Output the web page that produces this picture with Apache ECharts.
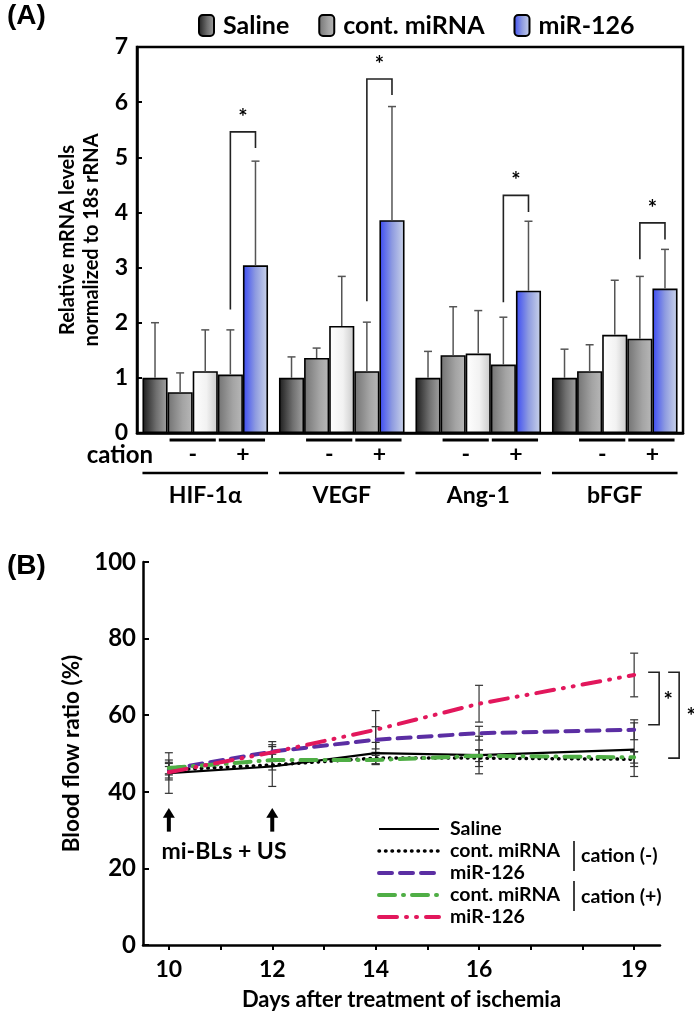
<!DOCTYPE html>
<html><head><meta charset="utf-8">
<script src="https://cdn.jsdelivr.net/npm/echarts@6/dist/echarts.min.js"></script>
<style>html,body{margin:0;padding:0;background:#fff}#c{width:694px;height:1015px}</style>
</head><body><div id="c"></div><script>
// ---------- Panel A data ----------
const genes = ['HIF-1α', 'VEGF', 'Ang-1', 'bFGF'];
const yTicksA = [0, 1, 2, 3, 4, 5, 6, 7];
const salineA = [1.00, 1.00, 1.00, 1.00];
const salineErrA = [1.00, 0.38, 0.48, 0.52];
const contMinusA = [0.74, 1.36, 1.41, 1.12];
const contMinusErrA = [0.35, 0.18, 0.88, 0.48];
const mirMinusA = [1.12, 1.94, 1.44, 1.78];
const mirMinusErrA = [0.75, 0.90, 0.78, 0.99];
const contPlusA = [1.06, 1.12, 1.24, 1.71];
const contPlusErrA = [0.81, 0.89, 0.86, 1.13];
const mirPlusA = [3.04, 3.86, 2.58, 2.62];
const mirPlusErrA = [1.89, 2.06, 1.26, 0.71];
// significance brackets: [left leg bottom, top, right leg bottom]
const sigA = [[2.24, 5.46, 5.17], [2.39, 6.42, 6.13], [2.37, 4.31, 4.01], [3.15, 3.81, 3.51]];

// ---------- Panel B data ----------
const days = [10, 12, 14, 16, 19];
const dayTicks = [10, 11, 12, 13, 14, 15, 16, 17, 18, 19];
const dayLabels = [10, 12, 14, 16, 19];
const salineB = [44.9, 46.6, 50.1, 49.6, 51.0];
const salineSdB = [5.3, 5.2, 2.8, 4.9, 7.0];
const contMinusB = [45.7, 47.0, 48.8, 48.8, 48.5];
const contMinusSdB = [2.6, 1.3, 1.5, 2.2, 1.9];
const mirMinusB = [45.9, 50.5, 53.6, 55.3, 56.2];
const mirMinusSdB = [1.5, 2.6, 3.4, 1.8, 2.6];
const contPlusB = [46.2, 48.3, 48.3, 49.4, 49.0];
const contPlusSdB = [1.5, 1.5, 1.2, 1.5, 1.5];
const mirPlusB = [45.1, 50.3, 56.2, 63.0, 70.5];
const mirPlusSdB = [1.5, 2.0, 5.0, 4.8, 5.7];
const sigB = [[19, 71.2, 57.5], [19, 71.2, 48.8]];
const arrowDays = [10, 12];

const FONT = 'Lato';
const grad = (stops) => ({type: 'linear', x: 0, y: 0, x2: 1, y2: 0,
  colorStops: stops.map(s => ({offset: s[0], color: s[1]}))});
const fillSaline = grad([[0, '#1c1c1c'], [0.55, '#6f6f6f'], [1, '#a2a2a2']]);
const fillCont = grad([[0, '#727272'], [0.6, '#a4a4a4'], [1, '#b8b8b8']]);
const fillWhite = grad([[0, '#ffffff'], [0.55, '#f2f2f2'], [1, '#c9c9c9']]);
const fillBlue = grad([[0, '#3a4af4'], [0.5, '#8e9be0'], [1, '#ccd5ea']]);

const seriesA = [
  {name: 'Saline', vals: salineA, errs: salineErrA, fill: fillSaline},
  {name: 'cont. miRNA', vals: contMinusA, errs: contMinusErrA, fill: fillCont},
  {name: 'miR-126 (cation -)', vals: mirMinusA, errs: mirMinusErrA, fill: fillWhite},
  {name: 'cont. miRNA (cation +)', vals: contPlusA, errs: contPlusErrA, fill: fillCont},
  {name: 'miR-126', vals: mirPlusA, errs: mirPlusErrA, fill: fillBlue}
];

const errDataA = [];
seriesA.forEach((s, k) => s.vals.forEach((v, j) => errDataA.push([j, v, s.errs[j], k])));

function barX(api, j, k) {
  const c = api.coord([j, 0]);
  const bw = api.size([1, 0])[0] * 0.92 / 5;
  return c[0] + (k - 2) * bw;
}

const seriesB = [
  {name: 'Saline ', vals: salineB, sds: salineSdB, ls: {color: '#000', width: 2.2, type: 'solid'}},
  {name: 'cont. miRNA ', vals: contMinusB, sds: contMinusSdB, ls: {color: '#000', width: 3.5, type: [0.5, 6], cap: 'round'}},
  {name: 'miR-126 ', vals: mirMinusB, sds: mirMinusSdB, ls: {color: '#5b2ea3', width: 4, type: [13, 8], cap: 'round'}},
  {name: 'cont. miRNA  ', vals: contPlusB, sds: contPlusSdB, ls: {color: '#4fae45', width: 4, type: [16, 8, 1, 8], cap: 'round'}},
  {name: 'miR-126  ', vals: mirPlusB, sds: mirPlusSdB, ls: {color: '#e2175c', width: 4, type: [18, 9, 1, 9, 1, 9], cap: 'round'}}
];
const errDataB = [];
seriesB.forEach(s => s.vals.forEach((v, i) => errDataB.push([days[i], v, s.sds[i]])));

const boldText = (size) => ({fontFamily: FONT, fontWeight: 'bold', fontSize: size, color: '#000'});

const option = {
  backgroundColor: '#fff',
  animation: false,
  grid: [
    {left: 137, right: 11, top: 47, bottom: 582, show: true, borderColor: '#000', borderWidth: 2.5, containLabel: false},
    {left: 143, right: 34, top: 562, bottom: 70, containLabel: false}
  ],
  xAxis: [
    {gridIndex: 0, type: 'category', data: genes,
      axisLine: {lineStyle: {color: '#000', width: 2.5}},
      axisTick: {inside: true, length: 5, lineStyle: {color: '#000', width: 1.5}},
      axisLabel: Object.assign({margin: 51}, boldText(23))},
    {gridIndex: 1, type: 'value', min: 9.5, max: 19.5,
      name: 'Days after treatment of ischemia', nameLocation: 'middle', nameGap: 44,
      nameTextStyle: boldText(22),
      splitLine: {show: false},
      axisLine: {lineStyle: {color: '#000', width: 2.5}},
      axisTick: {length: 5, lineStyle: {color: '#000', width: 2}, customValues: dayTicks},
      axisLabel: Object.assign({margin: 13, customValues: dayLabels}, boldText(23))}
  ],
  yAxis: [
    {gridIndex: 0, type: 'value', min: 0, max: 7, interval: 1,
      name: 'Relative mRNA levels\nnormalized to 18s rRNA', nameLocation: 'middle', nameRotate: 90, nameGap: 31,
      nameTextStyle: Object.assign({lineHeight: 24}, boldText(20)),
      splitLine: {show: false},
      axisLine: {show: true, lineStyle: {color: '#000', width: 2.5}},
      axisTick: {show: true, inside: true, length: 5, lineStyle: {color: '#000', width: 2}},
      axisLabel: Object.assign({margin: 9, formatter: v => yTicksA.includes(v) ? String(v) : ''}, boldText(23))},
    {gridIndex: 1, type: 'value', min: 0, max: 100, interval: 20,
      name: 'Blood flow ratio (%)', nameLocation: 'middle', nameRotate: 90, nameGap: 55,
      nameTextStyle: boldText(22.5),
      splitLine: {show: false},
      axisLine: {show: true, lineStyle: {color: '#000', width: 2.5}},
      axisTick: {show: true, inside: true, length: 6, lineStyle: {color: '#000', width: 2}},
      axisLabel: Object.assign({margin: 7}, boldText(24))}
  ],
  legend: [
    {data: ['Saline', 'cont. miRNA', 'miR-126'], left: 193, top: 8, itemWidth: 15, itemHeight: 21, itemGap: 29,
      textStyle: Object.assign({padding: [0, 0, 0, 4]}, boldText(25)), selectedMode: false},
    {data: seriesB.map(s => ({name: s.name, lineStyle: s.ls})), orient: 'vertical', left: 372, top: 814, itemWidth: 60, itemHeight: 12, itemGap: 2,
      formatter: n => n.trim(), itemStyle: {opacity: 0},
      textStyle: Object.assign({padding: [0, 0, 0, 6], lineHeight: 18}, boldText(19.5)), selectedMode: false}
  ],
  graphic: [
    {type: 'text', left: 7, top: 2, style: {text: '(A)', font: 'bold 28px "Liberation Sans"', fill: '#000'}},
    {type: 'text', left: 7, top: 552, style: {text: '(B)', font: 'bold 28px "Liberation Sans"', fill: '#000'}},
    {type: 'text', x: 153, y: 455, style: {text: 'cation', font: 'bold 24px Lato', fill: '#000', align: 'right', verticalAlign: 'middle'}},
    {type: 'text', x: 224, y: 852, style: {text: 'mi-BLs + US', font: 'bold 23px Lato', fill: '#000', align: 'center', verticalAlign: 'middle'}},
    {type: 'line', shape: {x1: 574, y1: 841, x2: 574, y2: 871}, style: {stroke: '#000', lineWidth: 1.5}},
    {type: 'text', x: 581, y: 856, style: {text: 'cation (-)', font: 'bold 19.5px Lato', fill: '#000', verticalAlign: 'middle'}},
    {type: 'line', shape: {x1: 574, y1: 881, x2: 574, y2: 911}, style: {stroke: '#000', lineWidth: 1.5}},
    {type: 'text', x: 581, y: 897, style: {text: 'cation (+)', font: 'bold 19.5px Lato', fill: '#000', verticalAlign: 'middle'}}
  ],
  series: [
    ...seriesA.map(s => ({
      type: 'bar', name: s.name, xAxisIndex: 0, yAxisIndex: 0, data: s.vals,
      barGap: '0%', barCategoryGap: '8%',
      itemStyle: {color: s.fill, borderColor: '#000', borderWidth: 1.6}
    })),
    {type: 'custom', name: 'errA', xAxisIndex: 0, yAxisIndex: 0, data: errDataA, z: 5,
      renderItem: (params, api) => {
        const j = api.value(0), v = api.value(1), e = api.value(2), k = api.value(3);
        const x = barX(api, j, k);
        const y0 = api.coord([j, v])[1], y1 = api.coord([j, v + e])[1];
        const st = {stroke: '#555', lineWidth: 1.5};
        return {type: 'group', children: [
          {type: 'line', shape: {x1: x, y1: y0, x2: x, y2: y1}, style: st},
          {type: 'line', shape: {x1: x - 4, y1: y1, x2: x + 4, y2: y1}, style: st}
        ]};
      }},
    {type: 'custom', name: 'sigA', xAxisIndex: 0, yAxisIndex: 0, z: 5,
      data: sigA.map((s, j) => [j, s[0], s[1], s[2]]),
      renderItem: (params, api) => {
        const j = api.value(0);
        const xl = barX(api, j, 3), xr = barX(api, j, 4);
        const yl = api.coord([j, api.value(1)])[1], yt = api.coord([j, api.value(2)])[1], yr = api.coord([j, api.value(3)])[1];
        return {type: 'group', children: [
          {type: 'polyline', shape: {points: [[xl, yl], [xl, yt], [xr, yt], [xr, yr]]}, style: {stroke: '#222', lineWidth: 1.6, fill: null}},
          {type: 'text', x: (xl + xr) / 2, y: yt - 3, style: {text: '*', font: 'bold 22px Lato', fill: '#000', align: 'center', verticalAlign: 'bottom'}}
        ]};
      }},
    {type: 'custom', name: 'cationRow', xAxisIndex: 0, yAxisIndex: 0, z: 5, clip: false,
      data: genes.map((g, j) => [j, 0]),
      renderItem: (params, api) => {
        const j = api.value(0);
        const y0 = api.coord([j, 0])[1];
        const bw = api.size([1, 0])[0] * 0.92 / 5;
        const b = k => barX(api, j, k);
        const ln = (x1, x2, y, w) => ({type: 'line', shape: {x1, y1: y, x2, y2: y}, style: {stroke: '#000', lineWidth: w}});
        const tx = (t, x, y) => ({type: 'text', x, y, style: {text: t, font: 'bold 23px Lato', fill: '#000', align: 'center', verticalAlign: 'middle'}});
        return {type: 'group', children: [
          ln(b(1) - bw / 2 + 2, b(2) + bw / 2 - 2, y0 + 7, 3),
          ln(b(3) - bw / 2 + 1, b(4) + bw / 2 - 3, y0 + 7, 3),
          tx('-', (b(1) + b(2)) / 2, y0 + 22),
          tx('+', (b(3) + b(4)) / 2, y0 + 22),
          ln(b(0) - bw / 2, b(4) + bw / 2, y0 + 40, 2.5)
        ]};
      }},
    ...seriesB.map(s => ({
      type: 'line', name: s.name, xAxisIndex: 1, yAxisIndex: 1,
      data: s.vals.map((v, i) => [days[i], v]),
      symbol: 'none', lineStyle: s.ls, itemStyle: {color: s.ls.color}, z: 3
    })),
    {type: 'custom', name: 'errB', xAxisIndex: 1, yAxisIndex: 1, data: errDataB, z: 2,
      renderItem: (params, api) => {
        const x = api.coord([api.value(0), 0])[0];
        const m = api.value(1), sd = api.value(2);
        const yt = api.coord([0, m + sd])[1], yb = api.coord([0, m - sd])[1];
        const st = {stroke: '#333', lineWidth: 1.2};
        return {type: 'group', children: [
          {type: 'line', shape: {x1: x, y1: yt, x2: x, y2: yb}, style: st},
          {type: 'line', shape: {x1: x - 4, y1: yt, x2: x + 4, y2: yt}, style: st},
          {type: 'line', shape: {x1: x - 4, y1: yb, x2: x + 4, y2: yb}, style: st}
        ]};
      }},
    {type: 'custom', name: 'sigB', xAxisIndex: 1, yAxisIndex: 1, clip: false, z: 4,
      data: sigB,
      renderItem: (params, api) => {
        const i = params.dataIndex;
        const x0 = api.coord([api.value(0), 0])[0] + 14 + i * 20;
        const yt = api.coord([0, api.value(1)])[1], yb = api.coord([0, api.value(2)])[1];
        return {type: 'group', children: [
          {type: 'polyline', shape: {points: [[x0, yt], [x0 + 11, yt], [x0 + 11, yb], [x0, yb]]}, style: {stroke: '#222', lineWidth: 1.6, fill: null}},
          {type: 'text', x: x0 + 20 + i * 3, y: (yt + yb) / 2 + 2, style: {text: '*', font: 'bold 22px Lato', fill: '#000', align: 'center', verticalAlign: 'middle'}}
        ]};
      }},
    {type: 'custom', name: 'arrows', xAxisIndex: 1, yAxisIndex: 1, clip: false, z: 4,
      data: arrowDays.map(d => [d, 0]),
      renderItem: (params, api) => {
        const c = api.coord([api.value(0), 0]);
        const x = c[0];
        const yTip = api.coord([0, 35.8])[1], yBase = api.coord([0, 33.2])[1], yEnd = api.coord([0, 29.6])[1];
        return {type: 'group', children: [
          {type: 'rect', shape: {x: x - 2, y: yBase - 1, width: 4, height: yEnd - yBase + 1}, style: {fill: '#000'}},
          {type: 'polygon', shape: {points: [[x, yTip], [x - 6, yBase], [x + 6, yBase]]}, style: {fill: '#000'}}
        ]};
      }}
  ]
};
const chart = echarts.init(document.getElementById('c'));
chart.setOption(option);
</script></body></html>
